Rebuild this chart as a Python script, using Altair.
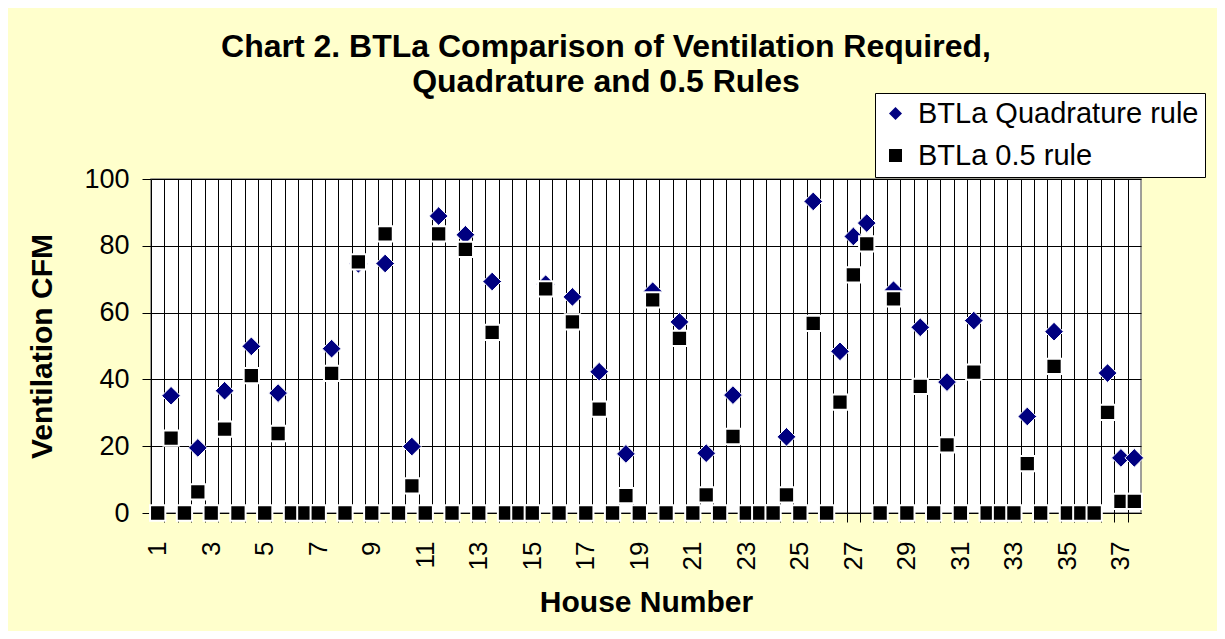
import altair as alt
import pandas as pd

# x positions (half-house steps, as in the original worksheet rows)
positions = [1, 1.5, 2, 2.5, 3, 3.5, 4, 4.5, 5, 5.5, 6, 6.5, 7, 7.5, 8, 8.5,
             9, 9.5, 10, 10.5, 11, 11.5, 12, 12.5, 13, 13.5, 14, 14.5, 15, 15.5,
             16, 16.5, 17, 17.5, 18, 18.5, 19, 19.5, 20, 20.5, 21, 21.5, 22, 22.5,
             23, 23.5, 24, 24.5, 25, 25.5, 26, 26.5, 27, 27.5, 28, 28.5, 29, 29.5,
             30, 30.5, 31, 31.5, 32, 32.5, 33, 33.5, 34, 34.5, 35, 35.5, 36, 36.5,
             37, 37.5]

quadrature = [None, 35.1, None, 19.5, None, 36.6, None, 49.9, None, 35.9,
              None, None, None, 49.2, None, 74.6, None, 74.7, None, 19.9,
              None, 88.9, None, 83.3, None, 69.3, None, None, None, 68.5,
              None, 64.7, None, 42.3, None, 17.7, None, 66.4, None, 57.2,
              None, 17.9, None, 35.3, None, None, None, 22.8, None, 93.3,
              None, 48.4, 82.8, 86.8, None, 66.7, None, 55.6, None, 39.2,
              None, 57.6, None, None, None, 28.9, None, 54.3, None, None,
              None, 41.9, 16.5, 16.5]

rule05 = [0, 22.4, 0, 6.3, 0, 25.1, 0, 41.1, 0, 23.8,
          0, 0, 0, 41.8, 0, 75.2, 0, 83.6, 0, 8.1,
          0, 83.6, 0, 78.9, 0, 54.1, 0, 0, 0, 67.1,
          0, 57.2, 0, 31.1, 0, 5.2, 0, 63.8, 0, 52.3,
          0, 5.4, 0, 22.9, 0, 0, 0, 5.4, 0, 56.8,
          0, 33.2, 71.3, 80.6, 0, 64.1, 0, 37.9, 0, 20.4,
          0, 42.2, 0, 0, 0, 14.8, 0, 43.9, 0, 0,
          0, 30.1, 3.5, 3.5]

series_names = ["BTLa Quadrature rule", "BTLa 0.5 rule"]
series_colors = ["#000080", "#000000"]
series_shapes = ["diamond", "square"]

x_grid = [1.25, 1.75, 2.25, 2.75, 3.25, 3.75, 4.25, 4.75, 5.25, 5.75, 6.25, 6.75,
          7.25, 7.75, 8.25, 8.75, 9.25, 9.75, 10.25, 10.75, 11.25, 11.75, 12.25,
          12.75, 13.25, 13.75, 14.25, 14.75, 15.25, 15.75, 16.25, 16.75, 17.25,
          17.75, 18.25, 18.75, 19.25, 19.75, 20.25, 20.75, 21.25, 21.75, 22.25,
          22.75, 23.25, 23.75, 24.25, 24.75, 25.25, 25.75, 26.25, 26.75, 27.25,
          27.75, 28.25, 28.75, 29.25, 29.75, 30.25, 30.75, 31.25, 31.75, 32.25,
          32.75, 33.25, 33.75, 34.25, 34.75, 35.25, 35.75, 36.25, 36.75, 37.25]
x_labels = [1, 3, 5, 7, 9, 11, 13, 15, 17, 19, 21, 23, 25, 27, 29, 31, 33, 35, 37]
y_ticks = [0, 20, 40, 60, 80, 100]

rows = []
for p, v in zip(positions, quadrature):
    if v is not None:
        rows.append({"pos": p, "series": series_names[0], "value": v})
for p, v in zip(positions, rule05):
    if v is not None:
        rows.append({"pos": p, "series": series_names[1], "value": v})
df = pd.DataFrame(rows)

FONT = "Liberation Sans"

x_enc = alt.X(
    "pos:Q",
    scale=alt.Scale(domain=[0.75, 37.75], nice=False, zero=False),
    axis=alt.Axis(
        values=sorted(x_grid + x_labels),
        labelExpr="datum.value % 1 == 0 ? format(datum.value, 'd') : ''",
        labelAngle=270,
        labelOverlap=False,
        labelFlush=False,
        labelBound=False,
        labelPadding=19,
        tickSize=9,
        grid=True,
        gridOpacity={"condition": {"test": "datum.value % 1 == 0", "value": 0}, "value": 1},
        tickOpacity={"condition": {"test": "datum.value % 1 == 0", "value": 0}, "value": 1},
        titlePadding=18,
    ),
    title="House Number",
)
y_enc = alt.Y(
    "value:Q",
    scale=alt.Scale(domain=[0, 100], nice=False),
    axis=alt.Axis(values=y_ticks, grid=True, tickSize=9, labelPadding=13,
                  labelFontSize=27, titlePadding=26),
    title="Ventilation CFM",
)

legend = alt.Legend(
    title=None,
    orient="none",
    legendX=724,
    legendY=-86,
    fillColor="white",
    strokeColor="black",
    padding=6,
    labelFont=FONT,
    labelFontSize=29,
    labelColor="black",
    labelLimit=0,
    symbolSize=170,
    symbolStrokeWidth=0,
    rowPadding=12,
    labelOffset=8,
)

color = alt.Color("series:N", scale=alt.Scale(domain=series_names, range=series_colors), legend=legend)
shape = alt.Shape("series:N", scale=alt.Scale(domain=series_names, range=series_shapes), legend=legend)

base = alt.Chart(df)
quad_layer = base.transform_filter(alt.datum.series == series_names[0]).mark_point(
    filled=True, size=350, stroke="white", strokeWidth=1, opacity=1
).encode(x=x_enc, y=y_enc, color=color, shape=shape)
rule_layer = base.transform_filter(alt.datum.series == series_names[1]).mark_point(
    filled=True, size=234, stroke="white", strokeWidth=2, opacity=1
).encode(x=x_enc, y=y_enc, color=color, shape=shape)

chart = alt.layer(quad_layer, rule_layer).properties(
    width=990,
    height=334,
    padding={"left": 143, "top": 171, "right": 76, "bottom": 118},
    autosize=alt.AutoSizeParams(type="none"),
    background="#FFFFCC",
    title=alt.TitleParams(
        text=["Chart 2. BTLa Comparison of Ventilation Required,", "Quadrature and 0.5 Rules"],
        font=FONT,
        fontSize=32,
        fontWeight="bold",
        color="black",
        anchor="middle",
        frame="group",
        dx=-40,
        lineHeight=35,
        offset=-6,
    ),
).configure_axis(
    labelFont=FONT,
    labelFontSize=26,
    labelColor="black",
    titleFont=FONT,
    titleFontSize=30,
    titleFontWeight="bold",
    titleColor="black",
    domainColor="black",
    domainWidth=1,
    tickColor="black",
    gridColor="black",
    gridWidth=1,
).configure_view(
    fill="white",
    stroke="#808080",
    strokeWidth=1.5,
)

chart.save("out.html", embed_options={"renderer": "svg", "actions": False})
